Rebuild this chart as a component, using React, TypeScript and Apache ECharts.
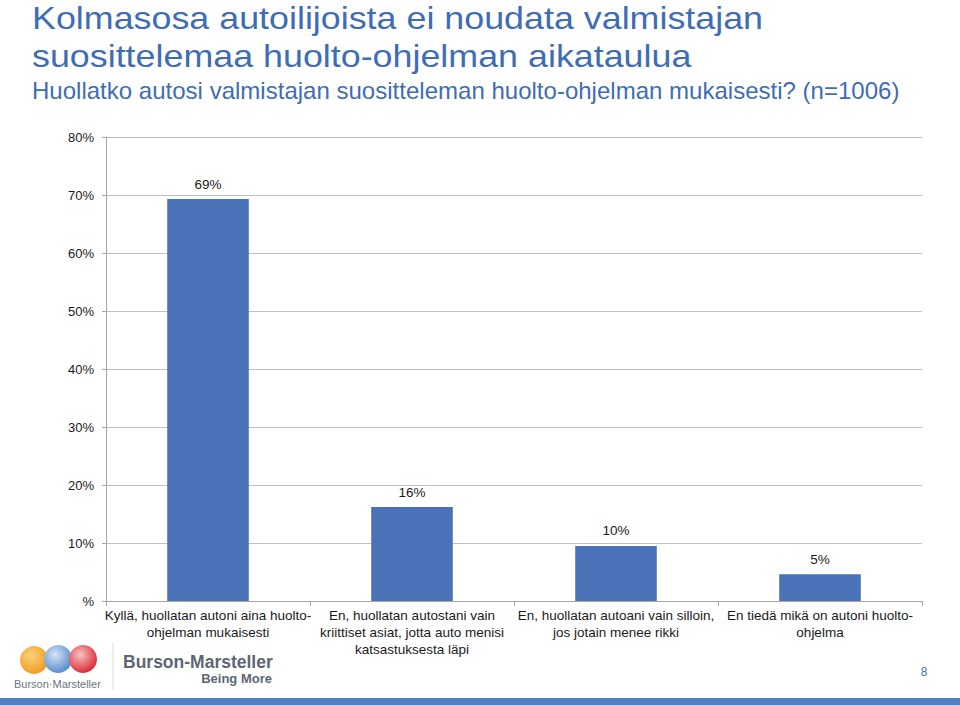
import React, { useEffect, useRef } from "react";
import * as echarts from "echarts";

const categories = [
  "Kyllä, huollatan autoni aina huolto-\nohjelman mukaisesti",
  "En, huollatan autostani vain\nkriittiset asiat, jotta auto menisi\nkatsastuksesta läpi",
  "En, huollatan autoani vain silloin,\njos jotain menee rikki",
  "En tiedä mikä on autoni huolto-\nohjelma",
];
const values = [69.3, 16.2, 9.5, 4.6];
const yTicks = [0, 10, 20, 30, 40, 50, 60, 70, 80];

const titleLines = [
  "Kolmasosa autoilijoista ei noudata valmistajan",
  "suosittelemaa huolto-ohjelman aikataulua",
];
const subtitle = "Huollatko autosi valmistajan suositteleman huolto-ohjelman mukaisesti? (n=1006)";

const FONT = "Liberation Sans, Arial, Helvetica, sans-serif";
const TITLE_BLUE = "#3f6db3";
const BAR_BLUE = "#4a72b8";

export default function App() {
  const ref = useRef<HTMLDivElement>(null);
  useEffect(() => {
    document.body.style.margin = "0";
    const chart = echarts.init(ref.current!, null, { renderer: "svg" });
    chart.setOption({
      animation: false,
      backgroundColor: "#ffffff",
      textStyle: { fontFamily: FONT },
      grid: { left: 106, right: 38, top: 137, bottom: 104, containLabel: false },
      xAxis: {
        type: "category",
        data: categories,
        axisLine: { show: true, lineStyle: { color: "#a6a6a6", width: 1 } },
        axisTick: { show: true, alignWithLabel: false, length: 5, lineStyle: { color: "#a6a6a6" } },
        axisLabel: {
          color: "#1a1a1a",
          fontSize: 13.5,
          lineHeight: 17,
          margin: 6,
          interval: 0,
          align: "center",
          fontFamily: FONT,
        },
      },
      yAxis: {
        type: "value",
        min: 0,
        max: 80,
        interval: 10,
        axisLine: { show: true, lineStyle: { color: "#a6a6a6", width: 1 } },
        axisTick: { show: true, length: 4, lineStyle: { color: "#a6a6a6" } },
        splitLine: { show: true, lineStyle: { color: "#bfbfbf", width: 1 } },
        axisLabel: {
          color: "#1a1a1a",
          fontSize: 13,
          margin: 12,
          fontFamily: FONT,
          formatter: (v: number) => (yTicks.includes(v) ? (v === 0 ? "%" : v + "%") : ""),
        },
      },
      series: [
        {
          type: "bar",
          data: values,
          barWidth: "40%",
          itemStyle: { color: BAR_BLUE },
          label: {
            show: true,
            position: "top",
            distance: 8,
            color: "#1a1a1a",
            fontSize: 13.5,
            fontFamily: FONT,
            formatter: (p: any) => Math.round(p.value) + "%",
          },
        },
      ],
      graphic: [
        {
          type: "text",
          x: 32,
          y: -1,
          scaleX: 1.12,
          style: {
            text: titleLines.join("\n"),
            fill: TITLE_BLUE,
            font: `32px ${FONT}`,
            lineHeight: 38,
            verticalAlign: "top",
            align: "left",
          },
        },
        {
          type: "text",
          x: 32,
          y: 80,
          scaleX: 1.045,
          style: {
            text: subtitle,
            fill: TITLE_BLUE,
            font: `23px ${FONT}`,
            verticalAlign: "top",
            align: "left",
          },
        },
        // logo globes
        {
          type: "circle",
          shape: { cx: 34, cy: 660, r: 14 },
          style: {
            fill: new echarts.graphic.RadialGradient(0.4, 0.35, 0.7, [
              { offset: 0, color: "#fbd07a" },
              { offset: 1, color: "#ef9a1e" },
            ]),
          },
        },
        {
          type: "circle",
          shape: { cx: 58, cy: 659, r: 14 },
          style: {
            fill: new echarts.graphic.RadialGradient(0.4, 0.35, 0.7, [
              { offset: 0, color: "#d4e4f6" },
              { offset: 1, color: "#4f86c6" },
            ]),
          },
        },
        {
          type: "circle",
          shape: { cx: 83, cy: 659, r: 14 },
          style: {
            fill: new echarts.graphic.RadialGradient(0.4, 0.35, 0.7, [
              { offset: 0, color: "#f6c4c4" },
              { offset: 1, color: "#dc1f2c" },
            ]),
          },
        },
        {
          type: "text",
          x: 14,
          y: 684,
          style: {
            text: "Burson·Marsteller",
            fill: "#6b7480",
            font: `11px ${FONT}`,
            verticalAlign: "middle",
            align: "left",
          },
        },
        {
          type: "line",
          shape: { x1: 113, y1: 643, x2: 113, y2: 690 },
          style: { stroke: "#d9d9d9", lineWidth: 1 },
        },
        {
          type: "text",
          x: 123,
          y: 662,
          style: {
            text: "Burson-Marsteller",
            fill: "#5d6672",
            font: `bold 17.5px ${FONT}`,
            verticalAlign: "middle",
            align: "left",
          },
        },
        {
          type: "text",
          x: 272,
          y: 678,
          style: {
            text: "Being More",
            fill: "#5d6672",
            font: `bold 13px ${FONT}`,
            verticalAlign: "middle",
            align: "right",
          },
        },
        {
          type: "text",
          x: 924,
          y: 672,
          style: {
            text: "8",
            fill: "#4a72b8",
            font: `12px ${FONT}`,
            verticalAlign: "middle",
            align: "center",
          },
        },
        {
          type: "rect",
          shape: { x: 0, y: 698, width: 960, height: 7 },
          style: { fill: "#4f7fbf" },
        },
      ],
    });
    return () => chart.dispose();
  }, []);
  return <div ref={ref} style={{ width: 960, height: 705 }} />;
}
